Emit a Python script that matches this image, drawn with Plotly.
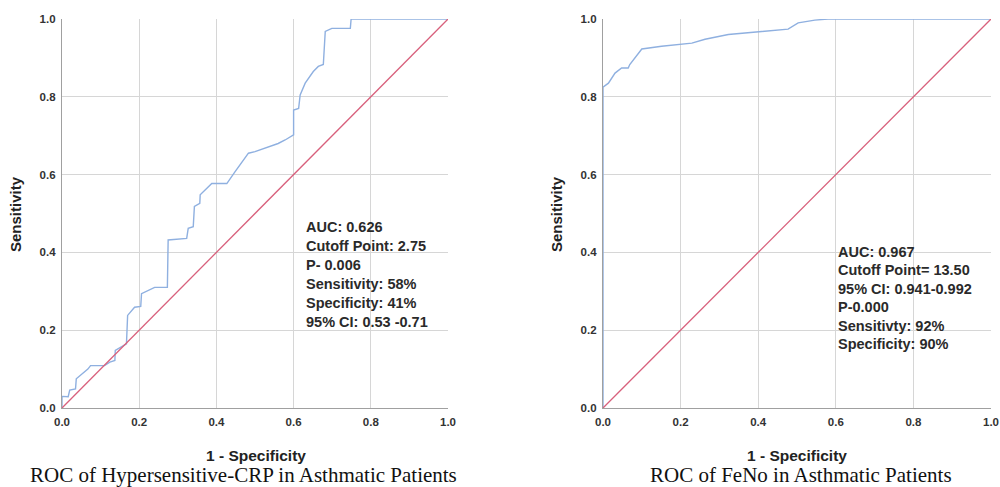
import plotly.graph_objects as go

# ---- Data ----
crp_fpr = [0.0, 0.0, 0.016, 0.02, 0.035, 0.037, 0.067, 0.074, 0.11, 0.124, 0.137, 0.138,
           0.167, 0.17, 0.188, 0.204, 0.206, 0.24, 0.273, 0.275, 0.323, 0.327, 0.34, 0.343,
           0.357, 0.358, 0.388, 0.427, 0.448, 0.483, 0.5, 0.535, 0.56, 0.578, 0.6, 0.6,
           0.613, 0.617, 0.63, 0.651, 0.664, 0.677, 0.682, 0.699, 0.747, 0.749, 1.0]
crp_tpr = [0.0, 0.03, 0.029, 0.046, 0.049, 0.075, 0.10, 0.109, 0.109, 0.118, 0.122, 0.148,
           0.165, 0.238, 0.259, 0.261, 0.294, 0.31, 0.31, 0.432, 0.436, 0.462, 0.466, 0.518,
           0.526, 0.548, 0.577, 0.577, 0.607, 0.655, 0.659, 0.672, 0.68, 0.689, 0.702, 0.766,
           0.77, 0.805, 0.835, 0.865, 0.878, 0.883, 0.968, 0.976, 0.976, 1.0, 1.0]

feno_fpr = [0.0, 0.0, 0.014, 0.031, 0.048, 0.065, 0.069, 0.10, 0.151, 0.203, 0.229, 0.263,
            0.323, 0.409, 0.477, 0.503, 0.546, 0.58, 1.0]
feno_tpr = [0.0, 0.825, 0.835, 0.861, 0.874, 0.874, 0.883, 0.923, 0.93, 0.936, 0.938, 0.948,
            0.96, 0.968, 0.974, 0.99, 0.997, 1.0, 1.0]

ref_line = [0.0, 1.0]

tick_vals = [0.0, 0.2, 0.4, 0.6, 0.8, 1.0]
tick_text = ["0.0", "0.2", "0.4", "0.6", "0.8", "1.0"]

crp_stats = ["AUC: 0.626", "Cutoff Point: 2.75", "P- 0.006", "Sensitivity: 58%",
             "Specificity: 41%", "95% CI: 0.53 -0.71"]
feno_stats = ["AUC: 0.967", "Cutoff Point= 13.50", "95% CI: 0.941-0.992", "P-0.000",
              "Sensitivty: 92%", "Specificity: 90%"]

titles = ["ROC of Hypersensitive-CRP in Asthmatic Patients", "ROC of FeNo in Asthmatic Patients"]
x_label = "1 - Specificity"
y_label = "Sensitivity"

# ---- Style ----
W, H = 1000, 487
ML, MR, MT, MB = 40, 5, 10, 5
CURVE = "#8fb0e0"
DIAG = "#d8607c"
GRID = "#d6d6d6"
AXIS = "#a0a0a0"
SANS = "Liberation Sans, Arial, sans-serif"
SERIF = "Liberation Serif, Times New Roman, serif"


def px_x(p):
    return (p - ML) / (W - ML - MR)


def px_y(p):
    return 1 - (p - MT) / (H - MT - MB)


left_dom = [px_x(62), px_x(448)]
right_dom = [px_x(603), px_x(991)]
y_dom = [px_y(408), px_y(19)]

fig = go.Figure()

fig.add_trace(go.Scatter(x=crp_fpr, y=crp_tpr, mode="lines", line=dict(color=CURVE, width=1.4),
                         xaxis="x", yaxis="y", showlegend=False, hoverinfo="skip"))
fig.add_trace(go.Scatter(x=ref_line, y=ref_line, mode="lines", line=dict(color=DIAG, width=1.3),
                         xaxis="x", yaxis="y", showlegend=False, hoverinfo="skip"))
fig.add_trace(go.Scatter(x=feno_fpr, y=feno_tpr, mode="lines", line=dict(color=CURVE, width=1.4),
                         xaxis="x2", yaxis="y2", showlegend=False, hoverinfo="skip"))
fig.add_trace(go.Scatter(x=ref_line, y=ref_line, mode="lines", line=dict(color=DIAG, width=1.3),
                         xaxis="x2", yaxis="y2", showlegend=False, hoverinfo="skip"))

axis_common = dict(range=[0, 1], tickvals=tick_vals, ticktext=["<b>" + t + "</b>" for t in tick_text],
                   showgrid=True, gridcolor=GRID, gridwidth=1, zeroline=False,
                   showline=True, linecolor=AXIS, linewidth=1.2,
                   ticks="outside", ticklen=3, tickcolor="rgba(0,0,0,0)",
                   tickfont=dict(family=SANS, size=11.5, color="#333333"),
                   automargin=False, fixedrange=True)

fig.update_layout(
    width=W, height=H,
    margin=dict(l=ML, r=MR, t=MT, b=MB, autoexpand=False),
    paper_bgcolor="white", plot_bgcolor="white",
    xaxis=dict(domain=left_dom, anchor="y", **axis_common),
    yaxis=dict(domain=y_dom, anchor="x", **axis_common),
    xaxis2=dict(domain=right_dom, anchor="y2", **axis_common),
    yaxis2=dict(domain=y_dom, anchor="x2", **axis_common),
)

ann = []
for xcap in (256, 797):
    ann.append(dict(x=px_x(xcap), y=px_y(455), xref="paper", yref="paper", text="<b>" + x_label + "</b>",
                    showarrow=False, font=dict(family=SANS, size=15.5, color="#222222"),
                    xanchor="center", yanchor="middle"))
ann.append(dict(x=px_x(243), y=px_y(475), xref="paper", yref="paper", text=titles[0],
                showarrow=False, font=dict(family=SERIF, size=21, color="#111111"),
                xanchor="center", yanchor="middle"))
ann.append(dict(x=px_x(801), y=px_y(475), xref="paper", yref="paper", text=titles[1],
                showarrow=False, font=dict(family=SERIF, size=21, color="#111111"),
                xanchor="center", yanchor="middle"))
for xpix in (16, 557):
    ann.append(dict(x=px_x(xpix), y=px_y(214), xref="paper", yref="paper", text="<b>" + y_label + "</b>",
                    showarrow=False, textangle=-90, font=dict(family=SANS, size=15, color="#222222"),
                    xanchor="center", yanchor="middle"))

for i, line in enumerate(crp_stats):
    ann.append(dict(x=px_x(304), y=px_y(227 + 19 * i), xref="paper", yref="paper",
                    text="<b>" + line + "</b>", showarrow=False,
                    font=dict(family=SANS, size=14.5, color="#2a2a2a"),
                    xanchor="left", yanchor="middle"))
for i, line in enumerate(feno_stats):
    ann.append(dict(x=px_x(836), y=px_y(252 + 18.4 * i), xref="paper", yref="paper",
                    text="<b>" + line + "</b>", showarrow=False,
                    font=dict(family=SANS, size=14.5, color="#2a2a2a"),
                    xanchor="left", yanchor="middle"))

fig.update_layout(annotations=ann)

fig.write_html("out.html", config={"displayModeBar": False},
               post_script="document.body.style.margin='0';document.body.style.overflow='hidden';")
